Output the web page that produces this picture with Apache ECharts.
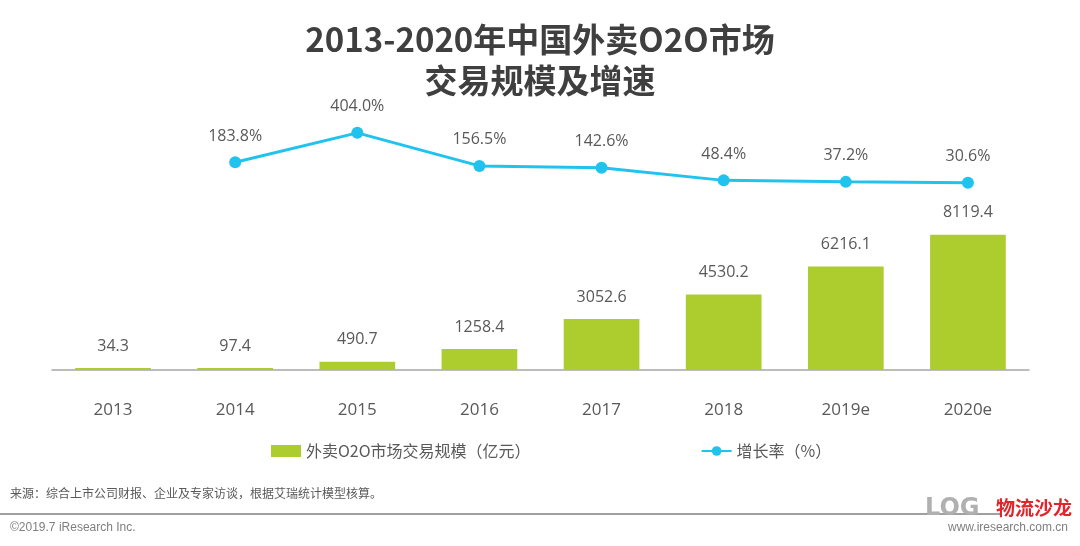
<!DOCTYPE html>
<html style="height: 100%">
<head>
    <meta charset="utf-8">
    <script src="https://cdn.jsdelivr.net/npm/echarts@6/dist/echarts.min.js"></script>
</head>
<body style="height: 100%; margin: 0; background: #fff">
<div id="container" style="width: 1080px; height: 546px"></div>
<script type="text/javascript">
    var years = ['2013', '2014', '2015', '2016', '2017', '2018', '2019e', '2020e'];
    var scale = [34.3, 97.4, 490.7, 1258.4, 3052.6, 4530.2, 6216.1, 8119.4];
    var growth = ['-', 183.8, 404.0, 156.5, 142.6, 48.4, 37.2, 30.6];

    var font = '"Open Sans", "Noto Sans CJK SC", sans-serif';
    var grey = '#595959';

    var myChart = echarts.init(document.getElementById('container'));
    var option = {
        backgroundColor: '#fff',
        textStyle: {fontFamily: font},
        title: {
            text: '2013-2020年中国外卖O2O市场\n交易规模及增速',
            left: 'center',
            top: 14,
            textStyle: {
                fontFamily: '"Noto Sans CJK SC", sans-serif',
                fontSize: 33,
                fontWeight: 'bold',
                color: '#3f3f3f',
                lineHeight: 41
            }
        },
        legend: {
            bottom: 82,
            left: 266,
            itemGap: 170,
            itemWidth: 30,
            itemHeight: 12,
            textStyle: {fontSize: 16, color: grey, fontFamily: '"Noto Sans CJK SC", sans-serif'},
            data: [
                {name: '外卖O2O市场交易规模（亿元）', icon: 'rect'},
                {name: '增长率（%）'}
            ]
        },
        grid: {left: 52, right: 51, top: 120, bottom: 176},
        xAxis: {
            type: 'category',
            data: years,
            axisTick: {show: false},
            axisLine: {lineStyle: {color: '#a6a6a6', width: 1.5}},
            axisLabel: {fontSize: 17, color: grey, margin: 32}
        },
        yAxis: [
            {type: 'value', min: 0, max: 15000, show: false, splitLine: {show: false}},
            {type: 'value', min: -1370, max: 500, show: false, splitLine: {show: false}}
        ],
        series: [
            {
                name: '外卖O2O市场交易规模（亿元）',
                type: 'bar',
                barWidth: '62%',
                barMinHeight: 2,
                data: scale,
                itemStyle: {color: '#adcd2f'},
                label: {
                    show: true,
                    position: 'top',
                    distance: 14,
                    fontSize: 16,
                    color: grey,
                    formatter: function (p) { return p.value.toFixed(1); }
                }
            },
            {
                name: '增长率（%）',
                type: 'line',
                yAxisIndex: 1,
                data: growth,
                symbol: 'circle',
                symbolSize: 12,
                lineStyle: {color: '#1fc3ee', width: 3},
                itemStyle: {color: '#1fc3ee'},
                label: {
                    show: true,
                    position: 'top',
                    distance: 12,
                    fontSize: 16,
                    color: grey,
                    formatter: function (p) { return p.value.toFixed(1) + '%'; }
                }
            }
        ],
        graphic: [
            {
                type: 'text', left: 10, top: 487,
                style: {text: '来源：综合上市公司财报、企业及专家访谈，根据艾瑞统计模型核算。', fontSize: 12, fill: '#595959', fontFamily: '"Noto Sans CJK SC", sans-serif'}
            },
            {
                type: 'line', shape: {x1: 0, y1: 514, x2: 1000, y2: 514},
                style: {stroke: '#808080', lineWidth: 1.5}
            },
            {
                type: 'text', left: 10, top: 522,
                style: {text: '©2019.7 iResearch Inc.', fontSize: 12, fill: '#7f7f7f', fontFamily: '"Liberation Sans", sans-serif'}
            },
            {
                type: 'text', right: 12, top: 522,
                style: {text: 'www.iresearch.com.cn', fontSize: 12, fill: '#7f7f7f', fontFamily: '"Liberation Sans", sans-serif'}
            },
            {
                type: 'text', left: 925, top: 497,
                style: {text: 'LOG', fontSize: 24, fontWeight: 'bold', fill: '#b0b0b0', fontFamily: '"DejaVu Sans", sans-serif'}
            },
            {
                type: 'text', left: 996, top: 498,
                style: {text: '物流沙龙', fontSize: 19, fontWeight: 'bold', fill: '#e2252b', fontFamily: '"Noto Sans CJK SC", sans-serif'}
            }
        ]
    };
    myChart.setOption(option);
</script>
</body>
</html>
